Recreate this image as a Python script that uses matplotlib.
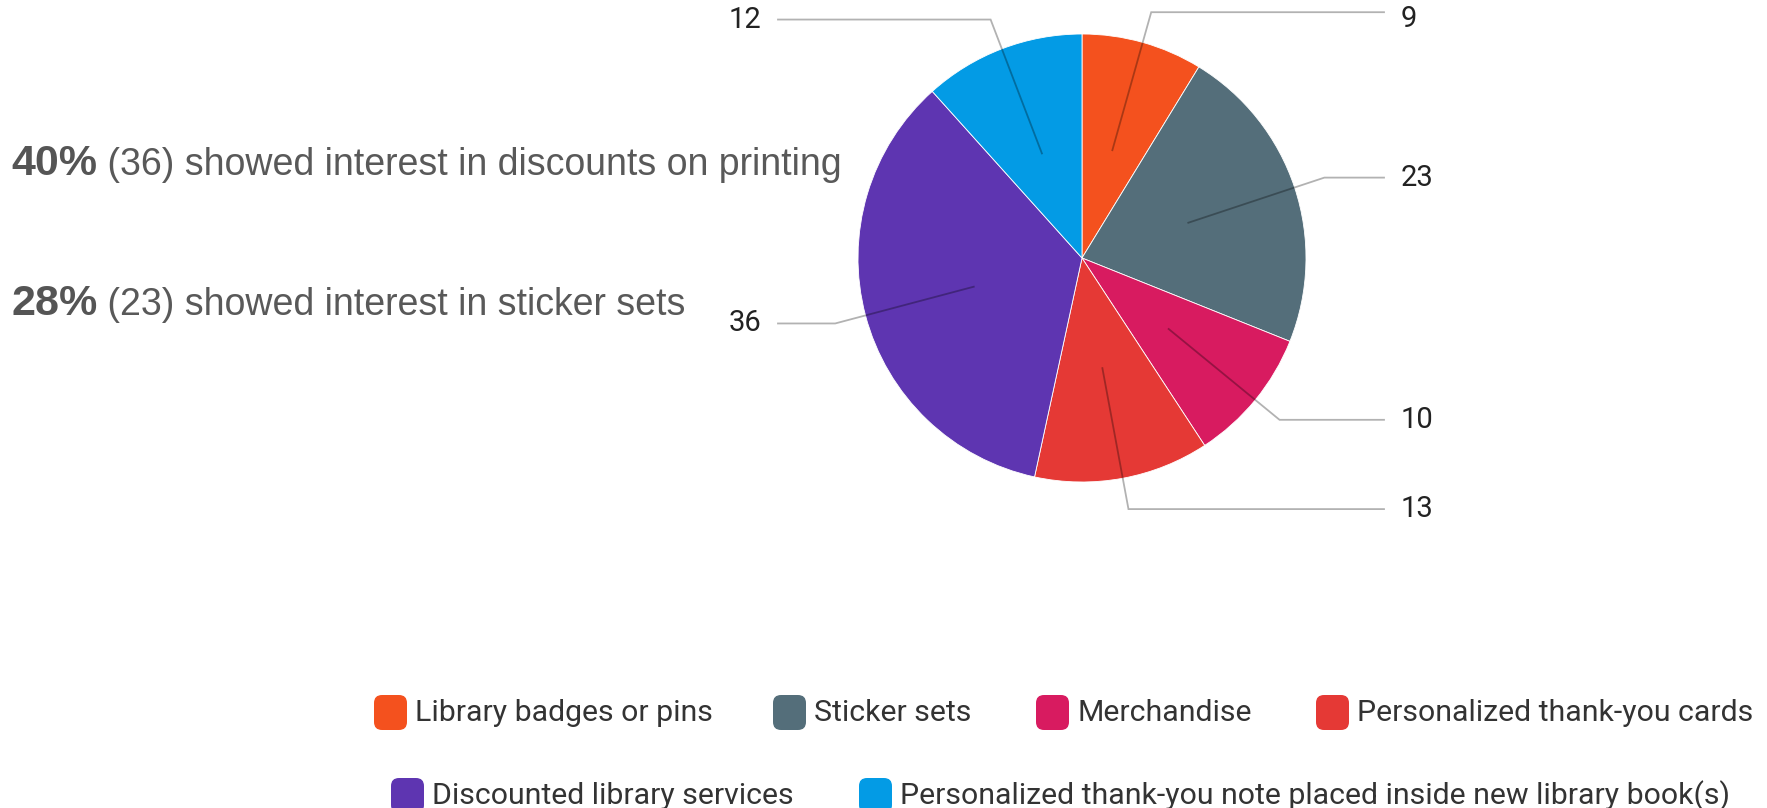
import numpy as np
import matplotlib
matplotlib.use("Agg")
import matplotlib.pyplot as plt
from matplotlib.patches import FancyBboxPatch

# ---- data ----
categories = ["Library badges or pins", "Sticker sets", "Merchandise",
              "Personalized thank-you cards", "Discounted library services",
              "Personalized thank-you note placed inside new library book(s)"]
counts = [9, 23, 10, 13, 36, 12]
colors = ["#F4511E", "#546E7A", "#D81B60", "#E53935", "#5E35B1", "#039BE5"]

notes_bold = ["40%", "28%"]
notes_text = [" (36) showed interest in discounts on printing",
              " (23) showed interest in sticker sets"]

# ---- layout ----
W, H = 1767, 808
fig = plt.figure(figsize=(W / 100, H / 100), dpi=100)
ax = fig.add_axes([0, 0, 1, 1])
cx, cy, r = 1082, H - 258, 224

wedges, _ = ax.pie(counts, colors=colors, startangle=90, counterclock=False,
                   center=(cx, cy), radius=r,
                   wedgeprops=dict(linewidth=0.6, edgecolor="white"))
ax.set_xlim(0, W)
ax.set_ylim(0, H)
ax.set_aspect("auto")
ax.axis("off")

right_end, left_end = 1384, 778
for w, v in zip(wedges, counts):
    ang = np.deg2rad((w.theta1 + w.theta2) / 2)
    c, s = np.cos(ang), np.sin(ang)
    x0, y0 = cx + 0.5 * r * c, cy + 0.5 * r * s
    x1, y1 = cx + 1.14 * r * c, cy + 1.14 * r * s
    if c > 0:
        x2, tx, ha = right_end, right_end + 17, "left"
    else:
        x2, tx, ha = left_end, left_end - 17, "right"
    ax.plot([x0, x1, x2], [y0, y1, y1], color="black", alpha=0.3, lw=1.3,
            zorder=5, solid_joinstyle="miter")
    ty = min(y1, H - 19)
    ax.text(tx, ty, str(v), ha=ha, va="center", fontsize=21,
            family="Roboto", color="#222222", zorder=6)

# annotation notes
note_base = [H - 175, H - 315]
fig.canvas.draw()
renderer = fig.canvas.get_renderer()
for b, t, yb in zip(notes_bold, notes_text, note_base):
    t1 = ax.text(11, yb, b, fontsize=31, fontweight="bold", family="Liberation Sans",
                 color="#555555", va="baseline", ha="left")
    bb = t1.get_window_extent(renderer=renderer)
    xend = ax.transData.inverted().transform((bb.x1, bb.y0))[0]
    ax.text(xend, yb, t, fontsize=27, family="Liberation Sans",
            color="#595959", va="baseline", ha="left")

# legend
leg_rows = [0, 0, 0, 0, 1, 1]
leg_x = [374, 773, 1036, 1316, 391, 859]
row_y = [H - 713, H - 796]
for cat, col, row, x in zip(categories, colors, leg_rows, leg_x):
    y = row_y[row]
    box = FancyBboxPatch((x + 4, y - 13), 25, 27,
                         boxstyle="round,pad=4,rounding_size=8",
                         facecolor=col, edgecolor="none")
    ax.add_patch(box)
    ax.text(x + 41, y, cat, ha="left", va="center", fontsize=21.8,
            family="Roboto", color="#333333")

fig.savefig("out.png", dpi=100)
